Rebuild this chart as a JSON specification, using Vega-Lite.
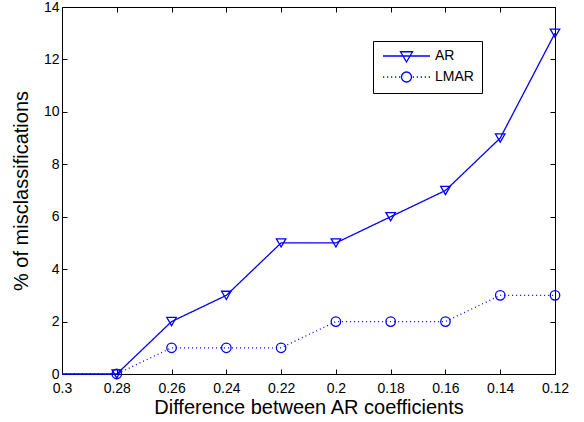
{
  "$schema": "https://vega.github.io/schema/vega-lite/v6.json",
  "width": 493,
  "height": 367,
  "autosize": "none",
  "padding": {"left": 62, "top": 7, "right": 29, "bottom": 48},
  "config": {
    "font": "Liberation Sans",
    "view": {"stroke": null},
    "axis": {"grid": false, "domainColor": "black", "tickColor": "black", "domainWidth": 1, "tickWidth": 1, "labelColor": "black", "titleColor": "black", "labelFont": "Liberation Sans", "titleFont": "Liberation Sans", "titleFontWeight": "normal", "labelFontSize": 14, "titleFontSize": 20}
  },
  "data": {
    "values": [
      {"diff": 0.3, "series": "AR", "pct": 0},
      {"diff": 0.28, "series": "AR", "pct": 0},
      {"diff": 0.26, "series": "AR", "pct": 2},
      {"diff": 0.24, "series": "AR", "pct": 3},
      {"diff": 0.22, "series": "AR", "pct": 5},
      {"diff": 0.2, "series": "AR", "pct": 5},
      {"diff": 0.18, "series": "AR", "pct": 6},
      {"diff": 0.16, "series": "AR", "pct": 7},
      {"diff": 0.14, "series": "AR", "pct": 9},
      {"diff": 0.12, "series": "AR", "pct": 13},
      {"diff": 0.3, "series": "LMAR", "pct": 0},
      {"diff": 0.28, "series": "LMAR", "pct": 0},
      {"diff": 0.26, "series": "LMAR", "pct": 1},
      {"diff": 0.24, "series": "LMAR", "pct": 1},
      {"diff": 0.22, "series": "LMAR", "pct": 1},
      {"diff": 0.2, "series": "LMAR", "pct": 2},
      {"diff": 0.18, "series": "LMAR", "pct": 2},
      {"diff": 0.16, "series": "LMAR", "pct": 2},
      {"diff": 0.14, "series": "LMAR", "pct": 3},
      {"diff": 0.12, "series": "LMAR", "pct": 3}
    ]
  },
  "layer": [
    {
      "mark": {"type": "line", "color": "#0000ff", "strokeWidth": 1.3, "clip": false},
      "encoding": {
        "x": {"field": "diff", "type": "quantitative",
          "scale": {"domain": [0.12, 0.3], "reverse": true, "nice": false, "zero": false},
          "axis": {"orient": "bottom", "title": "Difference between AR coefficients", "values": [0.3, 0.28, 0.26, 0.24, 0.22, 0.2, 0.18, 0.16, 0.14, 0.12], "format": ".2~f", "tickSize": -5, "labelPadding": 12, "titlePadding": 2, "labelFlush": false}},
        "y": {"field": "pct", "type": "quantitative",
          "scale": {"domain": [0, 14], "nice": false},
          "axis": {"orient": "left", "title": "% of misclassifications", "values": [0, 2, 4, 6, 8, 10, 12, 14], "tickSize": -5, "labelPadding": 8, "titlePadding": 12, "labelFlush": false}},
        "detail": {"field": "series"},
        "strokeDash": {"field": "series", "type": "nominal", "scale": {"domain": ["AR", "LMAR"], "range": [[1, 0], [1, 3]]}, "legend": null}
      }
    },
    {
      "transform": [{"filter": "datum.diff < 0.29"}],
      "mark": {"type": "point", "filled": false, "color": "#0000ff", "strokeWidth": 1.3, "size": 90, "opacity": 1, "clip": false},
      "encoding": {
        "x": {"field": "diff", "type": "quantitative", "axis": {"orient": "top", "labels": false, "title": null, "values": [0.3, 0.28, 0.26, 0.24, 0.22, 0.2, 0.18, 0.16, 0.14, 0.12], "tickSize": -5}},
        "y": {"field": "pct", "type": "quantitative", "axis": {"orient": "right", "labels": false, "title": null, "values": [0, 2, 4, 6, 8, 10, 12, 14], "tickSize": -5}},
        "shape": {"field": "series", "type": "nominal", "scale": {"domain": ["AR", "LMAR"], "range": ["triangle-down", "circle"]}, "legend": null}
      }
    },
    {
      "transform": [{"filter": "false"}],
      "mark": {"type": "point", "filled": false, "color": "#0000ff"},
      "encoding": {
        "x": {"field": "diff", "type": "quantitative", "axis": null},
        "y": {"field": "pct", "type": "quantitative", "axis": null},
        "shape": {"field": "series", "type": "nominal",
          "scale": {"domain": ["AR", "LMAR"], "range": [
            "M-1,0H8.4M2.5,-0.85H4.9L3.7,1.2Z",
            "M-1,0h0.25M-0.2,0h0.25M0.6,0h0.25M1.4,0h0.25M2.2,0h0.25M4.95,0h0.25M5.75,0h0.25M6.55,0h0.25M7.35,0h0.25M8.15,0h0.25M4.7,0A1,1,0,1,1,2.7,0A1,1,0,1,1,4.7,0"
          ]},
          "legend": {"title": null, "orient": "none", "legendX": 311, "legendY": 34, "symbolSize": 100, "symbolStrokeColor": "#0000ff", "symbolFillColor": "transparent", "symbolStrokeWidth": 1.3, "symbolOpacity": 1, "labelFontSize": 14, "labelColor": "black", "labelFont": "Liberation Sans", "labelOffset": 40, "strokeColor": "black", "fillColor": "white", "padding": 8, "rowPadding": 4}
        }
      }
    }
  ],
  "resolve": {"scale": {"shape": "independent"}}
}
